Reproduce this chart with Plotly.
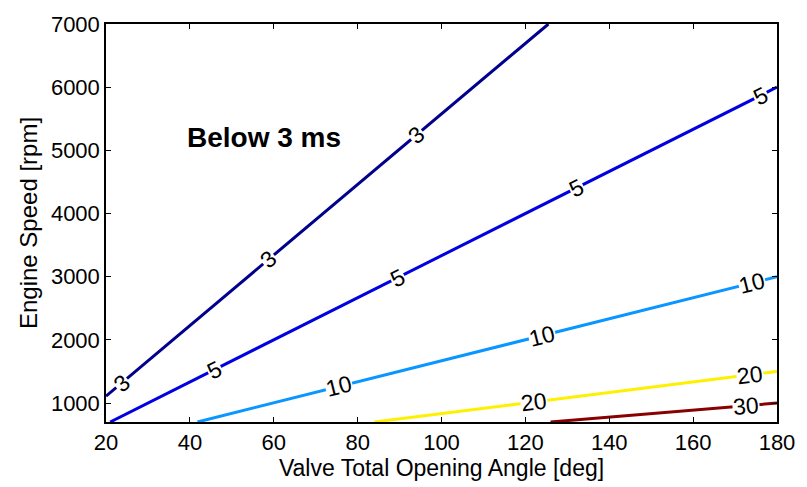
import math
import plotly.graph_objects as go

# Valve opening time contours (ms) over valve angle vs engine speed
levels = [3, 5, 10, 20, 30]
level_colors = ["#00008C", "#0000E0", "#0A96FF", "#FFF000", "#880000"]

# contour line end points: angle [deg], speed [rpm]
angle_3 = [20, 125.5]
speed_3 = [1110, 7000]
angle_5 = [21, 180]
speed_5 = [700, 6000]
angle_10 = [41.8, 180]
speed_10 = [700, 3000]
angle_20 = [84, 180]
speed_20 = [700, 1500]
angle_30 = [126, 180]
speed_30 = [700, 1000]

lines = [(angle_3, speed_3), (angle_5, speed_5), (angle_10, speed_10),
         (angle_20, speed_20), (angle_30, speed_30)]

# inline label positions along each contour (angle values)
label_angles = [
    [23.8, 58.8, 94.0],
    [45.8, 89.5, 132.2, 176.0],
    [75.6, 124.0, 174.0],
    [122.0, 173.5],
    [172.5],
]

x_range = [20, 180]
y_range = [700, 7000]
W, H = 807, 487
margin = dict(l=106, r=20, t=20, b=63)
plot_w = W - margin["l"] - margin["r"]
plot_h = H - margin["t"] - margin["b"]
FONT = "Liberation Sans"

fig = go.Figure()
annotations = []
for lvl, col, (xs, ys), lab_x in zip(levels, level_colors, lines, label_angles):
    fig.add_trace(go.Scatter(x=xs, y=ys, mode="lines",
                             line=dict(color=col, width=3),
                             showlegend=False, hoverinfo="skip"))
    slope = (ys[1] - ys[0]) / (xs[1] - xs[0])
    px_slope = slope * (plot_h / (y_range[1] - y_range[0])) / (plot_w / (x_range[1] - x_range[0]))
    ang = -math.degrees(math.atan(px_slope))
    for lx in lab_x:
        ly = ys[0] + slope * (lx - xs[0])
        annotations.append(dict(x=lx, y=ly, text=str(lvl), showarrow=False,
                                textangle=ang, bgcolor="white", borderpad=0,
                                font=dict(family=FONT, size=23, color="black")))

annotations.append(dict(x=0.117, y=0.715, xref="paper", yref="paper",
                        text="<b>Below 3 ms</b>", showarrow=False,
                        xanchor="left", yanchor="middle",
                        font=dict(family=FONT, size=28, color="black")))

axis_common = dict(showline=True, linecolor="black", linewidth=1.5, mirror="allticks",
                   ticks="inside", ticklen=5, tickcolor="black", tickwidth=1,
                   showgrid=False, zeroline=False,
                   tickfont=dict(family=FONT, size=22, color="black"))

fig.update_layout(
    width=W, height=H, margin=margin,
    paper_bgcolor="white", plot_bgcolor="white",
    annotations=annotations,
    xaxis=dict(range=x_range, tickvals=[20, 40, 60, 80, 100, 120, 140, 160, 180],
               title=dict(text="Valve Total Opening Angle [deg]", standoff=4,
                          font=dict(family=FONT, size=23, color="black")),
               **axis_common),
    yaxis=dict(range=y_range, tickvals=[1000, 2000, 3000, 4000, 5000, 6000, 7000],
               title=dict(text="Engine Speed [rpm]", standoff=6,
                          font=dict(family=FONT, size=24, color="black")),
               **axis_common),
)

fig.write_html("out.html")
